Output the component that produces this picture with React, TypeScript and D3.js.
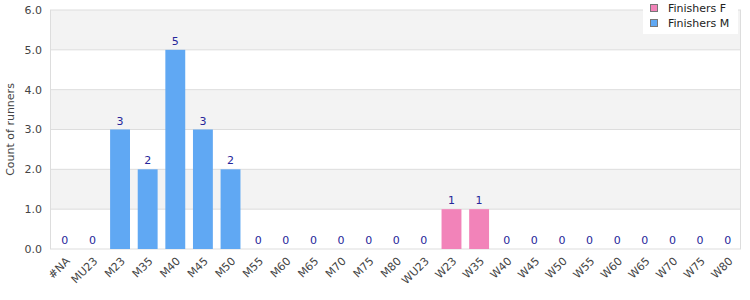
import React from "react";
import * as d3 from "d3";

const categories = ["#NA","MU23","M23","M35","M40","M45","M50","M55","M60","M65","M70","M75","M80","WU23","W23","W35","W40","W45","W50","W55","W60","W65","W70","W75","W80"];
const finishersF = [0,0,0,0,0,0,0,0,0,0,0,0,0,0,1,1,0,0,0,0,0,0,0,0,0];
const finishersM = [0,0,3,2,5,3,2,0,0,0,0,0,0,0,0,0,0,0,0,0,0,0,0,0,0];
const yTicks = [0,1,2,3,4,5,6];
const seriesNames = ["Finishers F","Finishers M"];
const seriesColors = ["#f283b9","#60a8f3"];

export default function App() {
  const W = 750, H = 300;
  const m = { l: 50, r: 9, t: 10, b: 51 };
  const x = d3.scaleBand().domain(categories).range([m.l + 1, W - m.r + 0.5]).paddingInner(0.28).paddingOuter(0.14);
  const y = d3.scaleLinear().domain([0, 6]).range([H - m.b, m.t]);
  const font = "DejaVu Sans, Verdana, sans-serif";
  const bands = d3.range(0, 6).filter(i => i % 2 === 1);
  return (
    <svg width={W} height={H} style={{ position: "absolute", left: 0, top: 0 }} fontFamily={font}>
      {bands.map(i => (
        <rect key={"b" + i} x={m.l} y={y(i + 1)} width={W - m.r - m.l} height={y(i) - y(i + 1)} fill="#f3f3f3" />
      ))}
      {yTicks.map(t => (
        <g key={"t" + t}>
          <line x1={m.l} x2={W - m.r} y1={y(t)} y2={y(t)} stroke="#dddddd" />
          <text x={m.l - 8} y={y(t)} dy="0.35em" textAnchor="end" fontSize={11} fill="#444">{t.toFixed(1)}</text>
        </g>
      ))}
      <line x1={m.l + 0.5} x2={m.l + 0.5} y1={m.t} y2={H - m.b} stroke="#dddddd" />
      <line x1={W - m.r - 0.5} x2={W - m.r - 0.5} y1={m.t} y2={H - m.b} stroke="#dddddd" />
      <text transform={`translate(10,${(m.t + H - m.b) / 2}) rotate(-90)`} textAnchor="middle" fontSize={11} fill="#444" dy="0.35em">Count of runners</text>
      {categories.map((c, i) => {
        const f = finishersF[i], mv = finishersM[i];
        const x0 = x(c)!;
        const total = f + mv;
        return (
          <g key={c}>
            {mv > 0 && <rect x={x0} y={y(mv)} width={x.bandwidth()} height={y(0) - y(mv)} fill={seriesColors[1]} />}
            {f > 0 && <rect x={x0} y={y(mv + f)} width={x.bandwidth()} height={y(mv) - y(mv + f)} fill={seriesColors[0]} />}
            <text x={x0 + x.bandwidth() / 2} y={y(total) - 5} textAnchor="middle" fontSize={11} fill="#26269a">{total}</text>
            <text transform={`translate(${x0 + x.bandwidth() / 2 + 3},${H - m.b + 10}) rotate(-45)`} textAnchor="end" fontSize={11} fill="#444" dy="0.35em">{c}</text>
          </g>
        );
      })}
      <rect x={643} y={0} width={95} height={34} fill="#ffffff" />
      {seriesNames.map((s, i) => (
        <g key={s}>
          <rect x={650.5} y={4.5 + i * 15} width={7} height={7} fill={seriesColors[i]} stroke="#777" />
          <text x={668} y={8 + i * 15} dy="0.35em" fontSize={11} fill="#222">{s}</text>
        </g>
      ))}
    </svg>
  );
}
